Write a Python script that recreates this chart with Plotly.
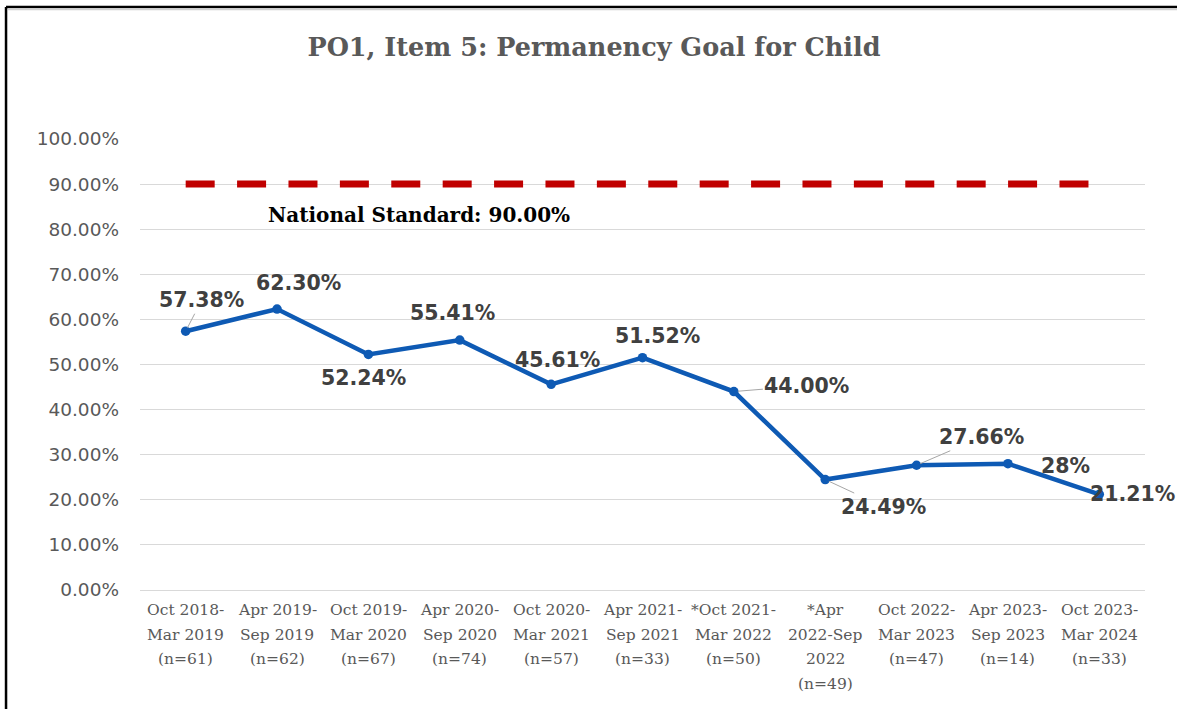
import plotly.graph_objects as go

categories = [
    "Oct 2018-<br>Mar 2019<br>(n=61)",
    "Apr 2019-<br>Sep 2019<br>(n=62)",
    "Oct 2019-<br>Mar 2020<br>(n=67)",
    "Apr 2020-<br>Sep 2020<br>(n=74)",
    "Oct 2020-<br>Mar 2021<br>(n=57)",
    "Apr 2021-<br>Sep 2021<br>(n=33)",
    "*Oct 2021-<br>Mar 2022<br>(n=50)",
    "*Apr<br>2022-Sep<br>2022<br>(n=49)",
    "Oct 2022-<br>Mar 2023<br>(n=47)",
    "Apr 2023-<br>Sep 2023<br>(n=14)",
    "Oct 2023-<br>Mar 2024<br>(n=33)",
]
values = [57.38, 62.30, 52.24, 55.41, 45.61, 51.52, 44.00, 24.49, 27.66, 28.00, 21.21]
value_labels = ["57.38%", "62.30%", "52.24%", "55.41%", "45.61%", "51.52%",
                "44.00%", "24.49%", "27.66%", "28%", "21.21%"]
national_standard = [90.0] * len(categories)
y_ticks = [0, 10, 20, 30, 40, 50, 60, 70, 80, 90, 100]
y_tick_text = [f"{v:.2f}%" for v in y_ticks]

# label offsets (pixels) and whether a leader line is drawn
label_offsets = [(16, -31, True), (21, -26, False), (-5, 24, False), (-7, -27, False),
                 (6, -24, False), (15, -22, False), (73, -6, True), (58, 27, True),
                 (65, -28, True), (58, 2, False), (33, 0, False)]

BLUE = "#0E5AB4"
RED = "#C00000"

fig = go.Figure()
fig.add_trace(go.Scatter(
    x=categories, y=national_standard, mode="lines",
    line=dict(color=RED, width=7, dash="29px,22.4px"),
    hoverinfo="skip", showlegend=False))
fig.add_trace(go.Scatter(
    x=categories, y=values, mode="lines+markers",
    line=dict(color=BLUE, width=4.5),
    marker=dict(color=BLUE, size=9.5),
    showlegend=False))

lbl_font = dict(family="DejaVu Sans", size=20.5, color="#404040")
for cat, v, txt, (dx, dy, arrow) in zip(categories, values, value_labels, label_offsets):
    if arrow:
        fig.add_annotation(x=cat, y=v, text=f"<b>{txt}</b>", showarrow=True,
                           ax=dx, ay=dy, arrowhead=0, arrowwidth=1,
                           arrowcolor="#a6a6a6", standoff=4, font=lbl_font)
    else:
        fig.add_annotation(x=cat, y=v, text=f"<b>{txt}</b>", showarrow=False,
                           xshift=dx, yshift=-dy, font=lbl_font)

# category labels, one line at a time (for the wider line spacing)
tick_font = dict(family="DejaVu Serif", size=15.5, color="#595959")
for cat in categories:
    for i, line in enumerate(cat.split("<br>")):
        fig.add_annotation(x=cat, xref="x", y=0, yref="paper", text=line,
                           showarrow=False, xanchor="center", yanchor="middle",
                           yshift=-(20 + 24.6 * i), font=tick_font)

fig.add_annotation(xref="paper", yref="y", x=0.2776, y=90, yshift=-31,
                   xanchor="center", yanchor="middle",
                   text="<b>National Standard: 90.00%</b>", showarrow=False,
                   font=dict(family="DejaVu Serif", size=20, color="#000000"))

# outer frame
fig.add_shape(type="line", xref="paper", yref="paper", x0=-0.1333, x1=-0.1333,
              y0=1.2927, y1=-0.27, line=dict(color="#000000", width=2.5))
fig.add_shape(type="line", xref="paper", yref="paper", x0=-0.1333, x1=1.04,
              y0=1.2927, y1=1.2927, line=dict(color="#000000", width=2.5))
fig.add_shape(type="line", xref="paper", yref="paper", x0=-0.1313, x1=1.04,
              y0=1.2875, y1=1.2875, line=dict(color="#d0d0d0", width=2))

fig.update_layout(
    width=1177, height=709,
    margin=dict(l=140, r=32, t=139, b=119),
    paper_bgcolor="white", plot_bgcolor="white",
    title=dict(text="<b>PO1, Item 5: Permanency Goal for Child</b>",
               x=0.5047, xref="container", xanchor="center",
               y=1 - 47 / 709, yref="container", yanchor="middle",
               font=dict(family="DejaVu Serif", size=25.5, color="#595959")),
    xaxis=dict(range=[-0.5, len(categories) - 0.5], showgrid=False, showline=True,
               linecolor="#d9d9d9", linewidth=1, ticks="", showticklabels=False,
               fixedrange=True),
    yaxis=dict(range=[0, 100], tickvals=y_ticks, ticktext=y_tick_text,
               showgrid=True, gridcolor="#d9d9d9", gridwidth=1, zeroline=False,
               ticks="", tickfont=dict(family="DejaVu Sans", size=18.5, color="#595959"),
               ticklabelstandoff=20, fixedrange=True),
)

fig.write_html("out.html", config={"displayModeBar": False},
               post_script="document.body.style.margin='0';")
